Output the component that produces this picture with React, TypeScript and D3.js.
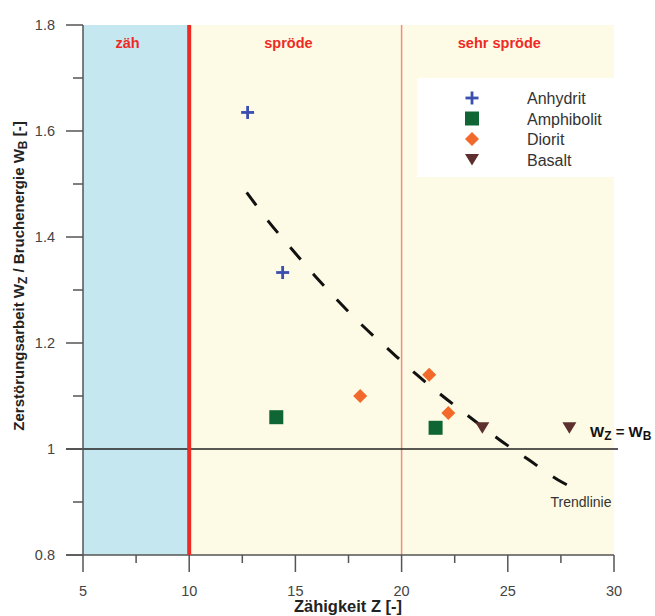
import React from "react";
import * as d3 from "d3";

// point data (Z, Wz/Wb)
const anhydrit: [number, number][] = [[12.75, 1.635], [14.4, 1.333]];
const amphibolit: [number, number][] = [[14.1, 1.06], [21.6, 1.04]];
const diorit: [number, number][] = [[18.05, 1.1], [21.3, 1.14], [22.2, 1.068]];
const basalt: [number, number][] = [[23.8, 1.04], [27.9, 1.04]];

// dashed trend line
const trend: [number, number][] = [
  [12.71, 1.484], [13.72, 1.43], [14.79, 1.379], [15.89, 1.328], [16.97, 1.281],
  [18.18, 1.232], [19.41, 1.187], [20.63, 1.143], [21.93, 1.1], [23.25, 1.059],
  [24.59, 1.018], [25.97, 0.98], [27.35, 0.942], [27.9, 0.93],
];

const xMajor = [5, 10, 15, 20, 25, 30];
const xMinor = [7.5, 12.5, 17.5, 22.5, 27.5];
const yMajor = [0.8, 1, 1.2, 1.4, 1.6, 1.8];
const yMinor = [0.9, 1.1, 1.3, 1.5, 1.7];

const zones = [
  { label: "zäh", from: 5, to: 10, fill: "#c5e7f0", labelX: 7.1 },
  { label: "spröde", from: 10, to: 20, fill: "#fdfbe5", labelX: 14.67 },
  { label: "sehr spröde", from: 20, to: 30, fill: "#fdfbe5", labelX: 24.6 },
];

const legendItems = ["Anhydrit", "Amphibolit", "Diorit", "Basalt"];

const blue = "#3b4fae";
const green = "#0f6634";
const orange = "#f26a2b";
const brown = "#5e2f2f";
const red = "#ee2a25";
const font = "'Liberation Sans', Arial, sans-serif";

const x = d3.scaleLinear().domain([5, 30]).range([83, 614]);
const y = d3.scaleLinear().domain([0.8, 1.8]).range([555, 25]);

const Cross = ({ cx, cy }: { cx: number; cy: number }) => (
  <g stroke={blue} strokeWidth={2.8}>
    <line x1={cx - 6.5} x2={cx + 6.5} y1={cy} y2={cy} />
    <line x1={cx} x2={cx} y1={cy - 6.5} y2={cy + 6.5} />
  </g>
);
const Square = ({ cx, cy }: { cx: number; cy: number }) => (
  <rect x={cx - 7} y={cy - 7} width={14} height={14} fill={green} />
);
const Diamond = ({ cx, cy }: { cx: number; cy: number }) => (
  <path d={`M${cx},${cy - 7}L${cx + 7},${cy}L${cx},${cy + 7}L${cx - 7},${cy}Z`} fill={orange} />
);
const Tri = ({ cx, cy }: { cx: number; cy: number }) => (
  <path d={`M${cx - 7},${cy - 5.5}L${cx + 7},${cy - 5.5}L${cx},${cy + 6}Z`} fill={brown} />
);

const symbols = [Cross, Square, Diamond, Tri];

export default function App() {
  const line = d3.line<[number, number]>()
    .x((d) => x(d[0]))
    .y((d) => y(d[1]))
    .curve(d3.curveMonotoneX);

  return (
    <svg width={655} height={616} style={{ position: "absolute", left: 0, top: 0, background: "#fff" }} fontFamily={font}>
      {zones.map((z) => (
        <rect key={z.label} x={x(z.from)} y={y(1.8)} width={x(z.to) - x(z.from)} height={y(0.8) - y(1.8)} fill={z.fill} />
      ))}
      {zones.map((z) => (
        <text key={z.label + "t"} x={x(z.labelX)} y={48} textAnchor="middle" fill={red} fontWeight="bold" fontSize={14.5}>
          {z.label}
        </text>
      ))}

      {/* legend */}
      <rect x={417} y={78} width={198} height={99} fill="#fff" />
      {legendItems.map((name, i) => {
        const S = symbols[i];
        const cy = 98 + i * 20.5;
        return (
          <g key={name}>
            <S cx={472} cy={cy} />
            <text x={527} y={cy + 6} fontSize={16} fill="#333">{name}</text>
          </g>
        );
      })}

      {/* zone borders */}
      <line x1={x(20)} x2={x(20)} y1={y(1.8)} y2={y(0.8)} stroke="#f48a85" strokeWidth={1.5} />

      {/* Wz = Wb line */}
      <line x1={66} x2={618} y1={y(1)} y2={y(1)} stroke="#222" strokeWidth={1.5} />

      {/* axes */}
      <g stroke="#555" strokeWidth={1.5}>
        <line x1={x(5)} x2={x(5)} y1={y(1.8)} y2={y(0.8)} />
        <line x1={66} x2={x(30)} y1={y(0.8)} y2={y(0.8)} />
        {yMajor.map((v) => <line key={"ym" + v} x1={66} x2={x(5)} y1={y(v)} y2={y(v)} />)}
        {yMinor.map((v) => <line key={"yn" + v} x1={73} x2={x(5)} y1={y(v)} y2={y(v)} />)}
        {xMajor.map((v) => <line key={"xm" + v} x1={x(v)} x2={x(v)} y1={y(0.8)} y2={572} />)}
        {xMinor.map((v) => <line key={"xn" + v} x1={x(v)} x2={x(v)} y1={y(0.8)} y2={563} />)}
      </g>
      <line x1={x(10)} x2={x(10)} y1={y(1.8)} y2={y(0.8)} stroke={red} strokeWidth={4} />

      {yMajor.map((v) => (
        <text key={"yl" + v} x={55} y={y(v) + 5} textAnchor="end" fontSize={14.5} fill="#444">
          {d3.format("~g")(v)}
        </text>
      ))}
      {xMajor.map((v) => (
        <text key={"xl" + v} x={x(v)} y={596} textAnchor="middle" fontSize={14.5} fill="#444">
          {v}
        </text>
      ))}

      {/* trend line */}
      <path d={line(trend) ?? ""} fill="none" stroke="#111" strokeWidth={3} strokeDasharray="16,19" />

      {anhydrit.map((d, i) => <Cross key={"a" + i} cx={x(d[0])} cy={y(d[1])} />)}
      {amphibolit.map((d, i) => <Square key={"m" + i} cx={x(d[0])} cy={y(d[1])} />)}
      {diorit.map((d, i) => <Diamond key={"d" + i} cx={x(d[0])} cy={y(d[1])} />)}
      {basalt.map((d, i) => <Tri key={"b" + i} cx={x(d[0])} cy={y(d[1])} />)}

      <text x={590} y={437} fontSize={15} fontWeight="bold" fill="#111">
        W<tspan fontSize={12} dy={3}>Z</tspan><tspan dy={-3}> = W</tspan><tspan fontSize={12} dy={3}>B</tspan>
      </text>
      <text x={581} y={507} textAnchor="middle" fontSize={14} fill="#333">Trendlinie</text>

      <text x={348} y={612} textAnchor="middle" fontSize={16.5} fontWeight="bold" fill="#222">Zähigkeit Z [-]</text>
      <text transform="translate(24,276) rotate(-90)" textAnchor="middle" fontSize={15} fontWeight="bold" fill="#222">
        Zerstörungsarbeit W<tspan fontSize={12} dy={3}>Z</tspan><tspan dy={-3}> / Bruchenergie W</tspan>
        <tspan fontSize={12} dy={3}>B</tspan><tspan dy={-3}> [-]</tspan>
      </text>
    </svg>
  );
}
